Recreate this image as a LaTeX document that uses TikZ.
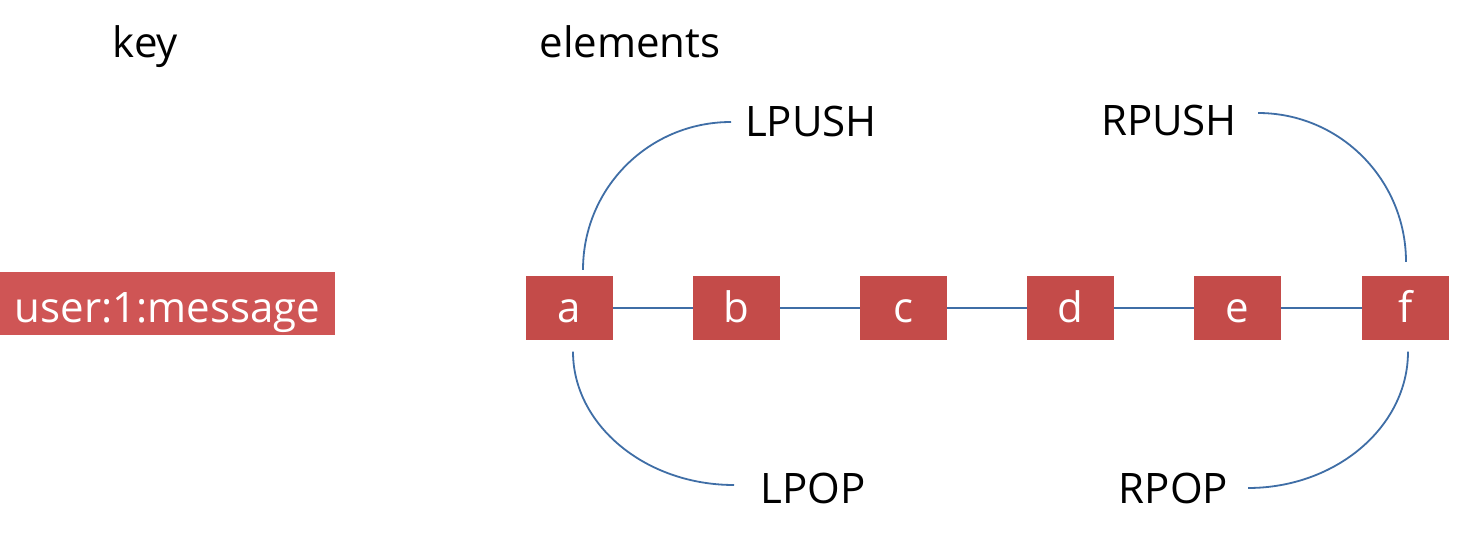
\documentclass[tikz,border=0pt]{standalone}
\usepackage{fontspec}
\setmainfont{Open Sans}
\usetikzlibrary{calc}
\definecolor{boxred}{HTML}{C44B49}
\definecolor{keyred}{HTML}{CF5555}
\definecolor{linkblue}{HTML}{3F6EA6}
\tikzset{
  lbl/.style={inner sep=0pt, anchor=base, font=\fontsize{42}{50}\selectfont, text=black},
  elem/.style={fill=boxred, draw=none, inner sep=0pt, minimum width=87pt,
    text height=46pt, text depth=17.5pt, text=white, font=\fontsize{42}{50}\selectfont},
  keybox/.style={fill=keyred, draw=none, inner sep=0pt, minimum width=335pt,
    text height=50pt, text depth=13pt, text=white, font=\fontsize{42}{50}\selectfont},
  link/.style={draw=linkblue, line width=1.8pt}
}
\begin{document}
\begin{tikzpicture}[x=1pt,y=-1pt]
\useasboundingbox[fill=white] (0,0) rectangle (1465,540);
% headings
\node[lbl] (keylbl) at (145.5,58) {key};
\node[lbl] (elemlbl) at (630,58) {elements};
% key box
\node[keybox, anchor=base] (key) at (167.5,322) {user:1:message};
% elements
\foreach \n/\x in {a/569.5, b/736.5, c/903.5, d/1070.5, e/1237.5, f/1405.5}{
  \node[elem, anchor=base] (\n) at (\x,322) {\n};
}
\draw[link] (a.east) -- (b.west);
\draw[link] (b.east) -- (c.west);
\draw[link] (c.east) -- (d.west);
\draw[link] (d.east) -- (e.west);
\draw[link] (e.east) -- (f.west);
% operation labels
\node[lbl] (lpush) at (811,137) {LPUSH};
\node[lbl] (rpush) at (1169,136) {RPUSH};
\node[lbl] (lpop) at (813,503) {LPOP};
\node[lbl] (rpop) at (1173.5,503) {RPOP};
% curve ends
\coordinate (lpushEnd) at (731,122);
\coordinate (rpushEnd) at (1258,113);
\coordinate (lpopEnd) at (734,485);
\coordinate (rpopEnd) at (1248,488);
\draw[link] ($(a.north)+(13.5,-6)$) .. controls +(0,-82) and +(-82,0) .. (lpushEnd);
\draw[link] (rpushEnd) .. controls +(82,0) and +(0,-82) .. ($(f.north)+(0.5,-14)$);
\draw[link] ($(a.south)+(3.5,12)$) .. controls +(0,73) and +(-89,0) .. (lpopEnd);
\draw[link] ($(f.south)+(2.5,12)$) .. controls +(0,75) and +(88,0) .. (rpopEnd);
\end{tikzpicture}
\end{document}
